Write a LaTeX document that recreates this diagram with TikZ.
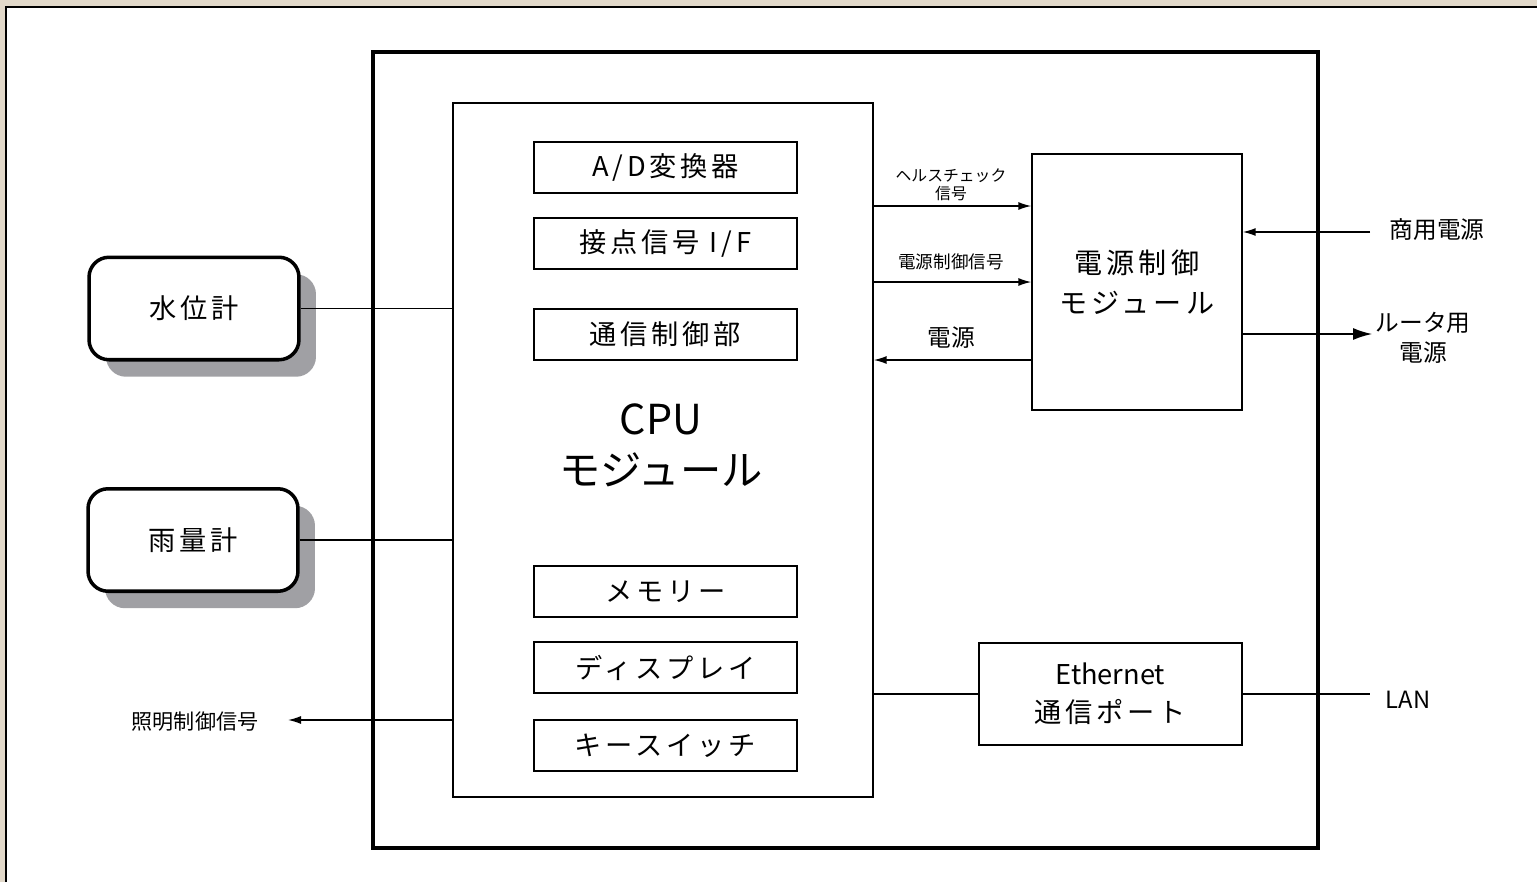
\documentclass[tikz,border=0pt]{standalone}
\usepackage{fontspec}
\setmainfont{Noto Sans CJK JP}
\newfontfamily\widejp[LetterSpace=14]{Noto Sans CJK JP}
\usetikzlibrary{arrows.meta,shadows}

\definecolor{paper}{RGB}{226,217,202}
\definecolor{shade}{RGB}{160,160,164}

\tikzset{
  wire/.style={line width=0.8pt},
  sig/.style={wire, -{Latex[length=2.6mm,width=1.6mm]}},
  unitbox/.style={draw, line width=2.3pt, inner sep=0pt},
  plainbox/.style={draw, wire, inner sep=0pt, align=center},
  partbox/.style={plainbox, minimum width=5.26cm, minimum height=1.02cm,
    font=\widejp\fontsize{15.5}{18}\selectfont},
  sensorbox/.style={draw, line width=2pt, rounded corners=0.4cm, fill=white,
    minimum width=4.2cm, minimum height=2.05cm,
    drop shadow={shadow xshift=0.34cm, shadow yshift=-0.34cm, fill=shade, opacity=1},
    font=\widejp\fontsize{15.5}{18}\selectfont},
  smalllabel/.style={align=center, inner sep=0pt}
}

\begin{document}
\begin{tikzpicture}[x=0.02cm, y=-0.02cm]
  \useasboundingbox (0,0) rectangle (1537,882);
  \fill[paper] (0,0) rectangle (1537,882);
  \fill[white] (6,7) rectangle (1537,882);
  \draw[line width=1.5pt] (6,882) -- (6,7) -- (1537,7);

  \node[unitbox, minimum width=18.9cm, minimum height=15.92cm] (unit) at (845.5,450) {};

  % CPU module
  \node[plainbox, minimum width=8.4cm, minimum height=13.88cm] (cpu) at (663,450) {};
  \foreach \y/\name/\labeltext in {167.5/ad/{A/D変換器}, 243.5/contact/{接点信号 I/F}, 334.5/comm/通信制御部,
      591.5/memory/メモリー, 667.5/display/ディスプレイ, 745.5/keysw/キースイッチ} {
    \node[partbox] (\name) at (665.5,\y) {\labeltext};
  }
  \node[smalllabel, font=\fontsize{23.5}{29}\selectfont] (cpulabel) at (661,445) {CPU\\モジュール};

  % power and network
  \node[plainbox, minimum width=4.2cm, minimum height=5.12cm,
    font=\widejp\fontsize{16}{22.8}\selectfont] (pw) at (1137,282) {電源制御\\モジュール};
  \node[plainbox, minimum width=5.26cm, minimum height=2.04cm,
    font=\fontsize{15.5}{21.6}\selectfont] (eth) at (1110.5,694) {Ethernet\\{\widejp 通信ポート}};

  % sensors
  \node[sensorbox] (wl) at (194,308.5) {水位計};
  \node[sensorbox] (rg) at (193,540) {雨量計};
  \draw[wire] (wl.east) -- (wl.east -| cpu.west);
  \draw[wire] (rg.east) -- (rg.east -| cpu.west);

  \node[smalllabel, font=\fontsize{12}{14}\selectfont] (ltlabel) at (195,722) {照明制御信号};
  \coordinate (ltend) at (288,720);
  \draw[sig] (cpu.west |- ltend) -- (ltend);

  % CPU <-> power module
  \node[smalllabel, font=\fontsize{9}{10.5}\selectfont] (hclabel) at (951,185) {ヘルスチェック\\信号};
  \coordinate (hc) at (951,206);
  \draw[sig] (cpu.east |- hc) -- (pw.west |- hc);
  \node[smalllabel, font=\fontsize{10}{12}\selectfont] (pclabel) at (951,262) {電源制御信号};
  \coordinate (pc) at (951,282);
  \draw[sig] (cpu.east |- pc) -- (pw.west |- pc);
  \node[smalllabel, font=\fontsize{13.5}{16}\selectfont] (pslabel) at (951,338) {電源};
  \coordinate (ps) at (951,360);
  \draw[sig] (pw.west |- ps) -- (cpu.east |- ps);

  % outside connections
  \node[smalllabel, font=\fontsize{13.5}{16}\selectfont] (aclabel) at (1437,230) {商用電源};
  \coordinate (acin) at (1370,232);
  \draw[sig] (acin) -- (pw.east |- acin);
  \node[smalllabel, font=\fontsize{13.5}{17}\selectfont] (rtlabel) at (1423,338) {ルータ用\\電源};
  \coordinate (rtout) at (1372,334);
  \draw[wire, -{Latex[length=3.8mm,width=2.4mm]}] (pw.east |- rtout) -- (rtout);

  \draw[wire] (eth.west) -- (eth.west -| cpu.east);
  \node[smalllabel, font=\fontsize{13.5}{16}\selectfont] (lanlabel) at (1408,700) {LAN};
  \coordinate (lanend) at (1370,694);
  \draw[wire] (eth.east) -- (lanend);
\end{tikzpicture}
\end{document}
